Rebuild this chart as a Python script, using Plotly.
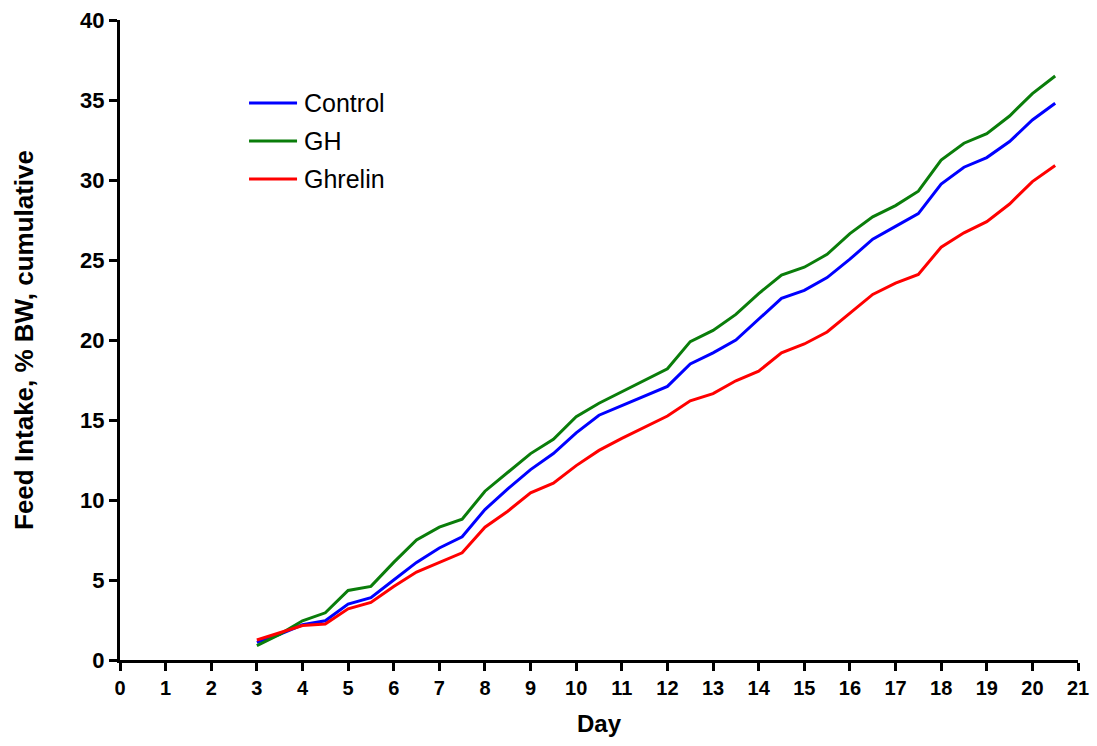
import plotly.graph_objects as go

# Sampling days (every half day from day 3 to 20.5)
days = [3, 3.5, 4, 4.5, 5, 5.5, 6, 6.5, 7, 7.5, 8, 8.5, 9, 9.5, 10, 10.5,
        11, 11.5, 12, 12.5, 13, 13.5, 14, 14.5, 15, 15.5, 16, 16.5, 17, 17.5,
        18, 18.5, 19, 19.5, 20, 20.5]

# Cumulative feed intake, % body weight
control = [1.1, 1.6, 2.2, 2.45, 3.5, 3.9, 5.0, 6.1, 7.0, 7.7, 9.4, 10.7,
           11.9, 12.9, 14.2, 15.3, 15.9, 16.5, 17.1, 18.5, 19.2, 20.0, 21.3, 22.6,
           23.1, 23.9, 25.05, 26.3, 27.1, 27.9, 29.75, 30.8, 31.4, 32.4, 33.75, 34.8]
gh = [0.9, 1.6, 2.45, 2.95, 4.35, 4.6, 6.1, 7.5, 8.3, 8.8, 10.55, 11.7,
      12.9, 13.8, 15.2, 16.05, 16.75, 17.45, 18.2, 19.9, 20.6, 21.6, 22.9, 24.06,
      24.55, 25.35, 26.65, 27.7, 28.4, 29.3, 31.25, 32.3, 32.9, 34.0, 35.4, 36.5]
ghrelin = [1.25, 1.7, 2.15, 2.25, 3.2, 3.6, 4.6, 5.5, 6.1, 6.7, 8.3, 9.3,
           10.45, 11.05, 12.15, 13.1, 13.85, 14.55, 15.25, 16.2, 16.65, 17.45, 18.05, 19.2,
           19.75, 20.5, 21.7, 22.85, 23.55, 24.1, 25.8, 26.7, 27.4, 28.5, 29.9, 30.9]

series = [("Control", control, "#0000FF"),
          ("GH", gh, "#0A7D0A"),
          ("Ghrelin", ghrelin, "#FF0000")]

x_ticks = list(range(0, 22))
y_ticks = list(range(0, 41, 5))

FONT = "Liberation Sans, Arial, sans-serif"

fig = go.Figure()
for name, vals, color in series:
    fig.add_trace(go.Scatter(x=days, y=vals, mode="lines", name=name,
                             line=dict(color=color, width=3), showlegend=False))

# Hand-placed legend entries
legend_rows = [0.8703, 0.8109, 0.7516]
for (name, vals, color), yy in zip(series, legend_rows):
    fig.add_shape(type="line", xref="paper", yref="paper",
                  x0=0.1347, x1=0.1848, y0=yy, y1=yy,
                  line=dict(color=color, width=3))
    fig.add_annotation(xref="paper", yref="paper", x=0.190, y=yy,
                       text=name, showarrow=False, xanchor="left", yanchor="middle",
                       font=dict(family=FONT, size=25, color="black"))

fig.update_layout(
    width=1097, height=746,
    margin=dict(l=120, r=19, t=20, b=86),
    plot_bgcolor="white", paper_bgcolor="white",
    xaxis=dict(range=[0, 21], tickvals=x_ticks, ticktext=[str(v) for v in x_ticks],
               automargin=False,
               showgrid=False, zeroline=False, showline=True, linecolor="black",
               linewidth=3, ticks="outside", ticklen=8, tickwidth=3, tickcolor="black",
               tickfont=dict(family=FONT, size=20, color="black", weight="bold"),
               title=dict(text="<b>Day</b>", standoff=18,
                          font=dict(family=FONT, size=24, color="black"))),
    yaxis=dict(range=[0, 40], tickvals=y_ticks, automargin=False,
               showgrid=False, zeroline=False,
               showline=True, linecolor="black", linewidth=3, ticks="outside",
               ticklen=8, tickwidth=3, tickcolor="black",
               tickfont=dict(family=FONT, size=22, color="black", weight="bold"),
               title=dict(text="<b>Feed Intake, % BW, cumulative</b>", standoff=40,
                          font=dict(family=FONT, size=26, color="black"))),
)

fig.write_html("out.html")
